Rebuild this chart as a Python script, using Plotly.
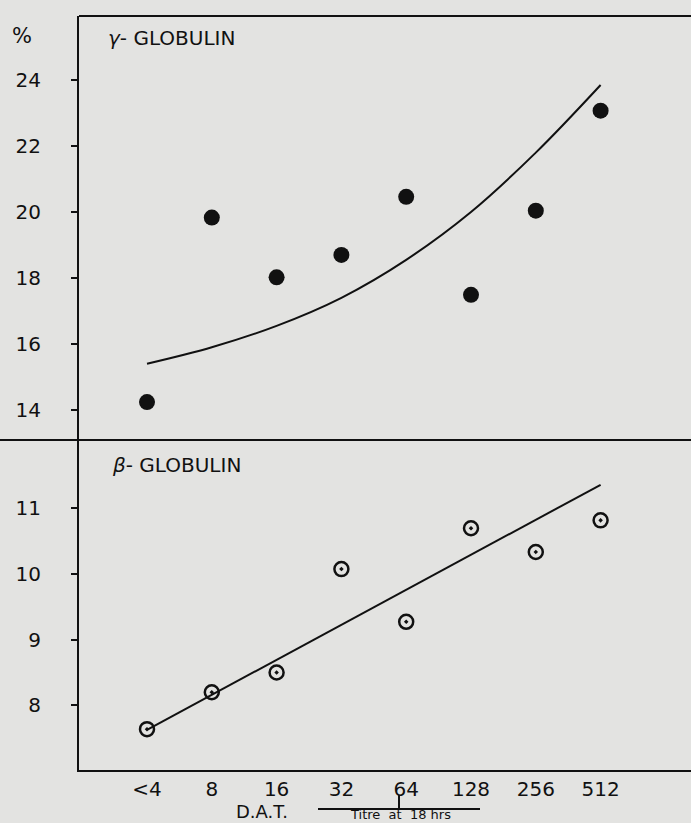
import plotly.graph_objects as go

# D.A.T. titre categories (titre at 18 hrs)
titres = ["<4", "8", "16", "32", "64", "128", "256", "512"]

# gamma-globulin, % of total protein
gamma_pct = [14.24, 19.83, 18.02, 18.70, 20.46, 17.49, 20.04, 23.07]
# fitted curve through the gamma values
gamma_fit = [15.40, 15.90, 16.55, 17.40, 18.55, 20.00, 21.80, 23.85]

# beta-globulin, % of total protein
beta_pct = [7.64, 8.20, 8.50, 10.07, 9.27, 10.69, 10.33, 10.81]
# straight regression line, end points at <4 and 512
beta_fit_x = ["<4", "512"]
beta_fit = [7.63, 11.35]

gamma_ticks = [14, 16, 18, 20, 22, 24]
beta_ticks = [8, 9, 10, 11]

W, H = 691, 823
ML, MR, MT, MB = 79, 0, 16, 53
PW, PH = W - ML - MR, H - MT - MB
DIVIDE_Y = 440  # pixel row of the panel divider
FONT = "DejaVu Sans"
INK = "#111111"
BG = "#e3e3e1"


def px_x(x):
    return (x - ML) / PW


def px_y(y):
    return (H - MB - y) / PH


fig = go.Figure()

fig.add_trace(go.Scatter(
    x=titres, y=gamma_fit, mode="lines", line=dict(color=INK, width=2, shape="spline"),
    xaxis="x", yaxis="y2", showlegend=False, hoverinfo="skip"))
fig.add_trace(go.Scatter(
    x=titres, y=gamma_pct, mode="markers",
    marker=dict(symbol="circle", size=16, color=INK, line=dict(width=0)),
    xaxis="x", yaxis="y2", showlegend=False))

fig.add_trace(go.Scatter(
    x=beta_fit_x, y=beta_fit, mode="lines", line=dict(color=INK, width=2),
    xaxis="x", yaxis="y", showlegend=False, hoverinfo="skip"))
fig.add_trace(go.Scatter(
    x=titres, y=beta_pct, mode="markers",
    marker=dict(symbol="circle-open-dot", size=14, color=INK, line=dict(width=2.5, color=INK)),
    xaxis="x", yaxis="y", showlegend=False))

split = px_y(DIVIDE_Y)
step = 64.8
first_center = 147
x_lo = -(first_center - ML) / step
x_hi = (W - MR - first_center) / step

tickfont = dict(family=FONT, size=20, color=INK)

fig.update_layout(
    width=W, height=H,
    margin=dict(l=ML, r=MR, t=MT, b=MB, pad=0),
    paper_bgcolor=BG, plot_bgcolor=BG,
    xaxis=dict(
        type="category", categoryorder="array", categoryarray=titres,
        range=[x_lo, x_hi], showline=True, linecolor=INK, linewidth=2,
        showgrid=False, zeroline=False, ticks="", tickfont=tickfont,
        ticklabelstandoff=0, anchor="y"),
    yaxis=dict(
        domain=[0, split], range=[7.02, 12.03], tickvals=beta_ticks,
        ticktext=[str(v) for v in beta_ticks],
        showline=True, linecolor=INK, linewidth=2, showgrid=False, zeroline=False,
        ticks="outside", ticklen=6, tickwidth=2, tickcolor=INK,
        tickfont=tickfont, ticklabelstandoff=26, anchor="x"),
    yaxis2=dict(
        domain=[split, 1], range=[13.09, 25.94], tickvals=gamma_ticks,
        ticktext=[str(v) for v in gamma_ticks],
        showline=True, linecolor=INK, linewidth=2, showgrid=False, zeroline=False,
        ticks="outside", ticklen=6, tickwidth=2, tickcolor=INK,
        tickfont=tickfont, ticklabelstandoff=26, anchor="x"),
    shapes=[
        # top frame line
        dict(type="line", xref="paper", yref="paper", x0=0, x1=1, y0=1, y1=1,
             line=dict(color=INK, width=2)),
        # divider between the two panels, running to the left edge
        dict(type="line", xref="paper", yref="paper", x0=px_x(0), x1=1,
             y0=split, y1=split, line=dict(color=INK, width=2)),
        # rule over the "Titre at 18 hrs" caption
        dict(type="line", xref="paper", yref="paper", x0=px_x(318), x1=px_x(480),
             y0=px_y(809), y1=px_y(809), line=dict(color=INK, width=2)),
        dict(type="line", xref="paper", yref="paper", x0=px_x(399), x1=px_x(399),
             y0=px_y(795), y1=px_y(809), line=dict(color=INK, width=2)),
    ],
    annotations=[
        dict(text="%", xref="paper", yref="paper", x=px_x(22), y=px_y(36),
             xanchor="center", yanchor="middle", showarrow=False,
             font=dict(family=FONT, size=21, color=INK)),
        dict(text="<i>γ</i>- GLOBULIN", xref="paper", yref="paper",
             x=px_x(106), y=px_y(38), xanchor="left", yanchor="middle",
             showarrow=False, font=dict(family=FONT, size=20, color=INK)),
        dict(text="<i>β</i>- GLOBULIN", xref="paper", yref="paper",
             x=px_x(110), y=px_y(465), xanchor="left", yanchor="middle",
             showarrow=False, font=dict(family=FONT, size=20, color=INK)),
        dict(text="D.A.T.", xref="paper", yref="paper", x=px_x(262), y=px_y(824),
             xanchor="center", yanchor="bottom", showarrow=False,
             font=dict(family=FONT, size=18, color=INK)),
        dict(text="Titre  at  18 hrs", xref="paper", yref="paper", x=px_x(400),
             y=px_y(824), xanchor="center", yanchor="bottom", showarrow=False,
             font=dict(family=FONT, size=13, color=INK)),
    ],
)

fig.write_html("out.html")
